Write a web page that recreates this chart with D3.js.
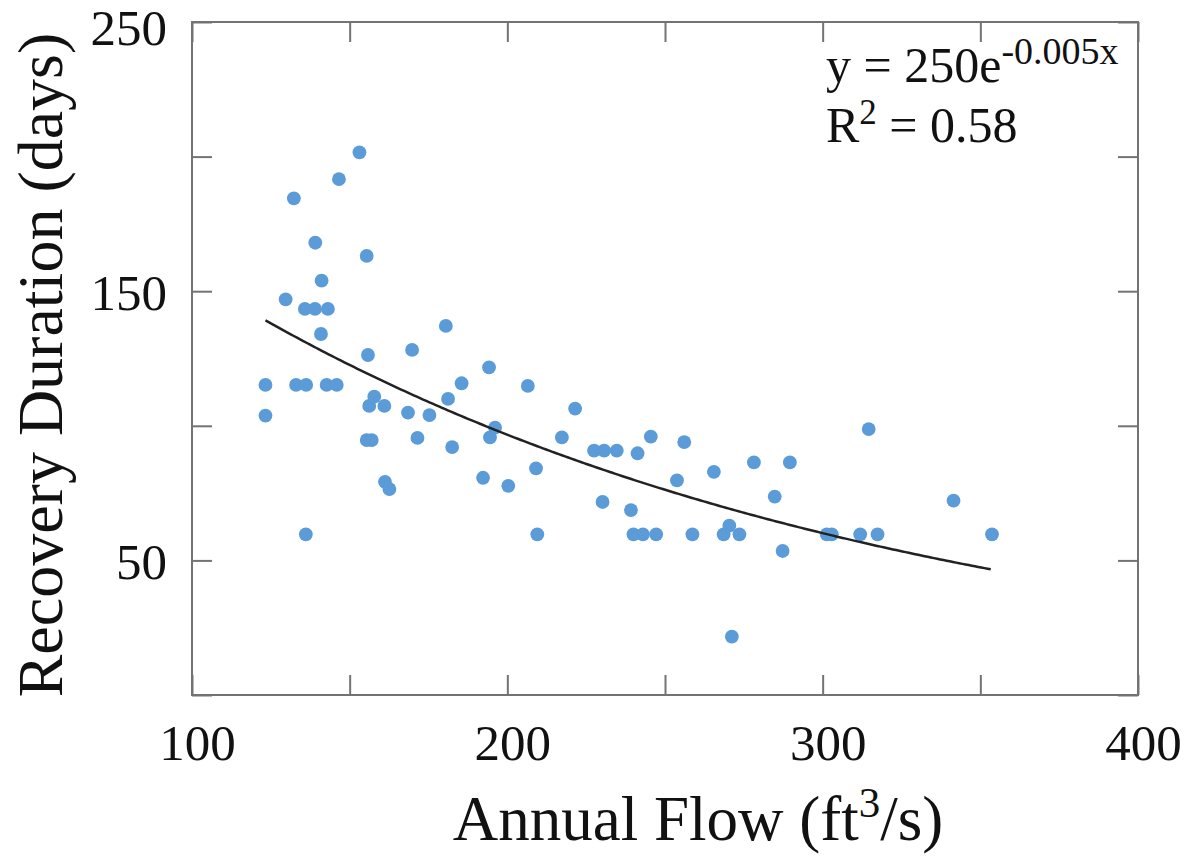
<!DOCTYPE html>
<html lang="en">
<head>
	<meta charset="UTF-8">
	<script type="text/javascript" src="https://cdn.jsdelivr.net/npm/d3@7"></script>
	<title>recovery duration vs annual flow</title>
	<style>
		body { margin: 0; background: #fff; }
		text { font-family: "Liberation Serif", "Times New Roman", serif; fill: #111; }
	</style>
</head>
<body>

<svg id="chart" width="1189" height="857"></svg>

<script type="text/javascript">
	// annual flow (ft3/s)
	var flow = [123.3, 123.3, 129.7, 132.3, 133.0, 136.2, 135.8, 136.1, 139.0, 139.1,
		141.1, 140.9, 142.7, 143.1, 145.9, 146.6, 153.1, 155.4, 155.8, 155.4,
		157.0, 156.2, 157.8, 161.0, 161.2, 162.6, 168.5, 169.8, 171.5, 175.3,
		180.5, 181.2, 182.5, 185.5, 192.3, 194.2, 194.5, 196.1, 200.3, 206.5,
		209.1, 209.5, 217.3, 221.5, 227.5, 230.7, 234.7, 230.2, 239.2, 240.0,
		243.0, 247.2, 241.3, 245.5, 253.8, 256.1, 258.7, 265.5, 268.6, 270.4,
		271.2, 273.6, 278.2, 284.8, 287.3, 289.6, 301.3, 302.9, 311.9, 314.6,
		317.4, 341.5, 353.7]
	// recovery duration (days), same order
	var duration = [115.2, 103.8, 147.0, 184.5, 115.2, 115.2, 143.4, 59.7, 143.4, 168.0,
		153.9, 134.1, 115.2, 143.4, 115.2, 191.6, 201.6, 163.1, 126.3, 94.7,
		94.7, 107.4, 110.8, 107.4, 79.2, 76.5, 104.9, 128.2, 95.5, 104.0,
		137.1, 110.0, 92.1, 115.8, 80.7, 121.7, 95.7, 99.3, 77.7, 114.8,
		84.2, 59.7, 95.7, 106.4, 90.8, 90.8, 90.8, 71.7, 68.7, 59.7,
		59.7, 59.7, 89.8, 96.0, 79.7, 93.9, 59.7, 82.9, 59.7, 62.9,
		21.7, 59.7, 86.4, 73.7, 53.5, 86.4, 59.7, 59.7, 59.7, 98.8,
		59.7, 72.2, 59.7]

	// exponential fit y = a * exp(-b x), as drawn
	var fitA = 250
	var fitB = 0.00475

	var xTicks = [100, 150, 200, 250, 300, 350, 400]
	var xLabels = [100, 200, 300, 400]
	var yTicks = [0, 50, 100, 150, 200, 250]
	var yLabels = [50, 150, 250]

	var margin = {left: 192, top: 22, right: 51, bottom: 162}
	var width = 1189 - margin.left - margin.right
	var height = 857 - margin.top - margin.bottom

	var svg = d3.select("#chart")
	var g = svg.append("g")
		.attr("transform", "translate(" + margin.left + "," + margin.top + ")")

	var x = d3.scaleLinear().domain([100, 400]).range([0, width])
	var y = d3.scaleLinear().domain([0, 250]).range([height, 0])

	var frameColor = "#737373"

	// ticks, all pointing inward, on four sides
	var fmtX = function(d) { return xLabels.indexOf(d) >= 0 ? d : "" }
	var fmtY = function(d) { return yLabels.indexOf(d) >= 0 ? d : "" }

	var bottom = g.append("g")
		.attr("transform", "translate(0," + height + ")")
		.call(d3.axisBottom(x).tickValues(xTicks).tickSize(-20).tickFormat(fmtX))
	bottom.selectAll("text")
		.attr("y", 29).attr("dy", "0.71em").attr("dx", 5)
		.style("font-size", "51px")

	g.append("g")
		.call(d3.axisTop(x).tickValues(xTicks).tickSize(-20).tickFormat(""))

	var left = g.append("g")
		.call(d3.axisLeft(y).tickValues(yTicks).tickSize(-20).tickFormat(fmtY))
	left.selectAll("text")
		.attr("x", -25)
		.attr("dy", function(d) { return d === 250 ? "0.44em" : "0.36em" })
		.style("font-size", "51px")

	g.append("g")
		.attr("transform", "translate(" + width + ",0)")
		.call(d3.axisRight(y).tickValues(yTicks).tickSize(-20).tickFormat(""))

	g.selectAll(".domain").remove()
	g.selectAll(".tick line")
		.attr("stroke", frameColor)
		.attr("stroke-width", 2)
	g.selectAll(".tick text").attr("fill", "#111").style("font-family", "Liberation Serif, serif")

	g.append("rect")
		.attr("width", width)
		.attr("height", height)
		.attr("fill", "none")
		.attr("stroke", frameColor)
		.attr("stroke-width", 2)

	// points
	g.selectAll("circle")
		.data(flow)
		.enter()
		.append("circle")
		.attr("cx", function(d) { return x(d) })
		.attr("cy", function(d, i) { return y(duration[i]) })
		.attr("r", 6.9)
		.style("fill", "#5a9bd8")

	// fitted curve over the range of the data
	var xs = d3.range(d3.min(flow), d3.max(flow) + 0.01, 1)
	var line = d3.line()
		.x(function(d) { return x(d) })
		.y(function(d) { return y(fitA * Math.exp(-fitB * d)) })
	g.append("path")
		.datum(xs)
		.attr("d", line)
		.attr("fill", "none")
		.attr("stroke", "#222")
		.attr("stroke-width", 2.5)

	// equation
	var eq = svg.append("text")
		.attr("x", 826)
		.attr("y", 82)
		.style("font-size", "50px")
	eq.append("tspan").text("y = 250e")
	eq.append("tspan").attr("dy", -18).style("font-size", "38px").text("-0.005x")

	var r2 = svg.append("text")
		.attr("x", 826)
		.attr("y", 142)
		.style("font-size", "50px")
	r2.append("tspan").text("R")
	r2.append("tspan").attr("dy", -18).style("font-size", "35px").text("2")
	r2.append("tspan").attr("dy", 18).text(" = 0.58")

	// axis titles
	var xt = svg.append("text")
		.attr("x", 698)
		.attr("y", 840)
		.attr("text-anchor", "middle")
		.style("font-size", "63px")
	xt.append("tspan").text("Annual Flow (ft")
	xt.append("tspan").attr("dy", -23).style("font-size", "43px").text("3")
	xt.append("tspan").attr("dy", 23).text("/s)")

	svg.append("text")
		.attr("transform", "translate(62,365) rotate(-90)")
		.attr("text-anchor", "middle")
		.style("font-size", "64px")
		.text("Recovery Duration (days)")
</script>

</body>
</html>
